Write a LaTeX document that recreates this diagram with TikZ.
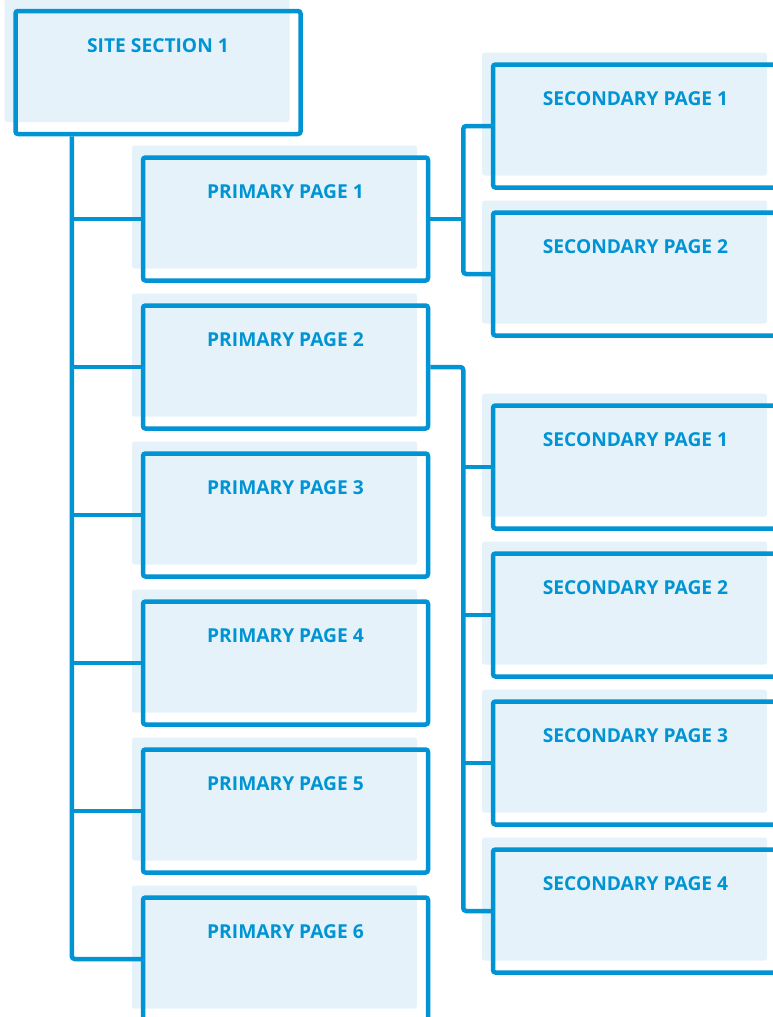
\documentclass[tikz,border=0pt]{standalone}
\usepackage{fontspec}
\setmainfont{Open Sans}
\usetikzlibrary{shadows}
\definecolor{pageblue}{RGB}{0,148,212}
\definecolor{pageshade}{RGB}{229,242,249}
\tikzset{
  pagebox/.style={draw=pageblue, line width=4.5pt, rounded corners=2.5pt, minimum width=285pt, minimum height=123pt, inner sep=0pt, general shadow={fill=pageshade, shadow xshift=-11pt, shadow yshift=12pt}},
  pagetext/.style={anchor=base, text=pageblue, font=\bfseries\fontsize{19.2}{23}\selectfont, inner sep=0pt},
  link/.style={draw=pageblue, line width=4.5pt, rounded corners=3pt}
}
\begin{document}
\begin{tikzpicture}[x=1pt,y=-1pt]
\useasboundingbox (0,0) rectangle (772,1017);
\node[pagebox] (site) at (158,72.5) {};
\node[pagebox] (prim1) at (285.5,219) {};
\node[pagebox] (prim2) at (285.5,367) {};
\node[pagebox] (prim3) at (285.5,515) {};
\node[pagebox] (prim4) at (285.5,663) {};
\node[pagebox] (prim5) at (285.5,811) {};
\node[pagebox] (prim6) at (285.5,959) {};
\node[pagebox] (sec11) at (635.5,126) {};
\node[pagebox] (sec12) at (635.5,274) {};
\node[pagebox] (sec21) at (635.5,467) {};
\node[pagebox] (sec22) at (635.5,615) {};
\node[pagebox] (sec23) at (635.5,763) {};
\node[pagebox] (sec24) at (635.5,911) {};
\node[pagetext] (site-t) at ([yshift=-43.5pt]site.north) {SITE SECTION 1};
\node[pagetext] (prim1-t) at ([yshift=-43.5pt]prim1.north) {PRIMARY PAGE 1};
\node[pagetext] (prim2-t) at ([yshift=-43.5pt]prim2.north) {PRIMARY PAGE 2};
\node[pagetext] (prim3-t) at ([yshift=-43.5pt]prim3.north) {PRIMARY PAGE 3};
\node[pagetext] (prim4-t) at ([yshift=-43.5pt]prim4.north) {PRIMARY PAGE 4};
\node[pagetext] (prim5-t) at ([yshift=-43.5pt]prim5.north) {PRIMARY PAGE 5};
\node[pagetext] (prim6-t) at ([yshift=-43.5pt]prim6.north) {PRIMARY PAGE 6};
\node[pagetext] (sec11-t) at ([yshift=-43.5pt]sec11.north) {SECONDARY PAGE 1};
\node[pagetext] (sec12-t) at ([yshift=-43.5pt]sec12.north) {SECONDARY PAGE 2};
\node[pagetext] (sec21-t) at ([yshift=-43.5pt]sec21.north) {SECONDARY PAGE 1};
\node[pagetext] (sec22-t) at ([yshift=-43.5pt]sec22.north) {SECONDARY PAGE 2};
\node[pagetext] (sec23-t) at ([yshift=-43.5pt]sec23.north) {SECONDARY PAGE 3};
\node[pagetext] (sec24-t) at ([yshift=-43.5pt]sec24.north) {SECONDARY PAGE 4};
\coordinate (trunk) at ([xshift=58.5pt]site.south west);
\coordinate (fork1) at ([xshift=33pt]prim1.east);
\coordinate (fork2) at ([xshift=33pt]prim2.east);
\draw[link] (trunk) |- (prim6.west);
\draw[link] (trunk |- prim1.west) -- (prim1.west);
\draw[link] (trunk |- prim2.west) -- (prim2.west);
\draw[link] (trunk |- prim3.west) -- (prim3.west);
\draw[link] (trunk |- prim4.west) -- (prim4.west);
\draw[link] (trunk |- prim5.west) -- (prim5.west);
\draw[link] (prim1.east) -- (fork1);
\draw[link] (sec11.west) -| (fork1) |- (sec12.west);
\draw[link] (prim2.east) -| (fork2 |- sec24.west) -- (sec24.west);
\draw[link] (fork2 |- sec21.west) -- (sec21.west);
\draw[link] (fork2 |- sec22.west) -- (sec22.west);
\draw[link] (fork2 |- sec23.west) -- (sec23.west);
\end{tikzpicture}
\end{document}
